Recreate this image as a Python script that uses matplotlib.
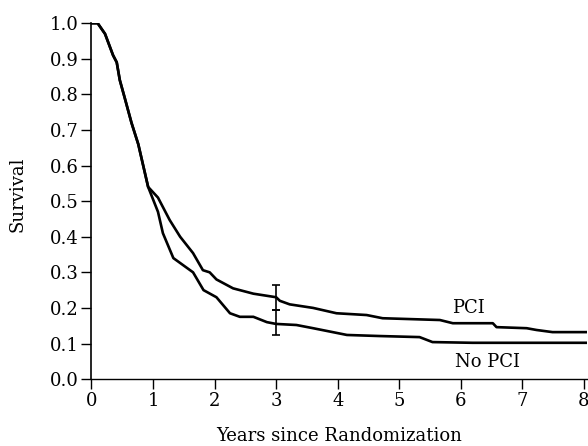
import matplotlib
matplotlib.use("Agg")
import matplotlib.pyplot as plt

# survival curves
pci_x = [0, 0.1, 0.22, 0.35, 0.41, 0.46, 0.54, 0.65, 0.76, 0.92, 1.08, 1.27, 1.44, 1.65, 1.81, 1.92,
         2.03, 2.30, 2.63, 3.0, 3.06, 3.22, 3.6, 3.98, 4.47, 4.73, 5.66, 5.87, 6.52, 6.58, 7.07, 7.23,
         7.49, 8.05]
pci_y = [1.0, 1.0, 0.97, 0.91, 0.89, 0.84, 0.79, 0.72, 0.66, 0.54, 0.51, 0.447, 0.40, 0.354, 0.306, 0.30,
         0.28, 0.255, 0.24, 0.23, 0.22, 0.21, 0.20, 0.185, 0.18, 0.171, 0.166, 0.157, 0.157, 0.146, 0.143, 0.138,
         0.132, 0.132]

nopci_x = [0, 0.1, 0.22, 0.35, 0.41, 0.46, 0.54, 0.65, 0.76, 0.92, 1.08, 1.16, 1.33, 1.65, 1.82, 2.03,
           2.25, 2.41, 2.63, 2.85, 3.0, 3.33, 3.6, 4.15, 4.68, 5.33, 5.54, 6.19, 8.05]
nopci_y = [1.0, 1.0, 0.97, 0.91, 0.89, 0.84, 0.79, 0.72, 0.66, 0.54, 0.47, 0.41, 0.34, 0.30, 0.25, 0.23,
           0.185, 0.175, 0.175, 0.16, 0.155, 0.152, 0.143, 0.124, 0.121, 0.118, 0.104, 0.102, 0.102]

# 3-year confidence bars
err_x = [3, 3]
err_y = [0.23, 0.158]
err_half = [0.035, 0.035]

x_ticks = [0, 1, 2, 3, 4, 5, 6, 7, 8]
y_ticks = [0.0, 0.1, 0.2, 0.3, 0.4, 0.5, 0.6, 0.7, 0.8, 0.9, 1.0]

plt.rcParams['font.family'] = ['DejaVu Serif']

fig = plt.figure(figsize=(5.88, 4.46), dpi=100)
ax = fig.add_axes([0.1556, 0.150, 0.8427, 0.798])

ax.plot(pci_x, pci_y, color='black', lw=1.9, solid_joinstyle='round')
ax.plot(nopci_x, nopci_y, color='black', lw=1.9, solid_joinstyle='round')
ax.errorbar(err_x, err_y, yerr=err_half, fmt='none', ecolor='black', elinewidth=1.2,
            capsize=3, capthick=1.2)

ax.text(6.12, 0.186, "PCI", fontsize=13, ha='center', va='baseline')
ax.text(6.43, 0.034, "No PCI", fontsize=13, ha='center', va='baseline')

ax.set_xlim(0, 8.05)
ax.set_ylim(0, 1.0)
ax.set_xticks(x_ticks)
ax.set_yticks(y_ticks)
ax.set_yticklabels([f"{v:.1f}" for v in y_ticks])
ax.tick_params(direction='out', length=7, width=1, labelsize=13, pad=2)
for side in ['top', 'right']:
    ax.spines[side].set_visible(False)
ax.spines['left'].set_linewidth(1.2)
ax.spines['bottom'].set_linewidth(1.0)

ax.set_xlabel("Years since Randomization", fontsize=13)
ax.set_ylabel("Survival", fontsize=13)
ax.xaxis.set_label_coords(0.5, -0.135)
ax.yaxis.set_label_coords(-0.132, 0.52)

fig.savefig("out.png", dpi=100)
